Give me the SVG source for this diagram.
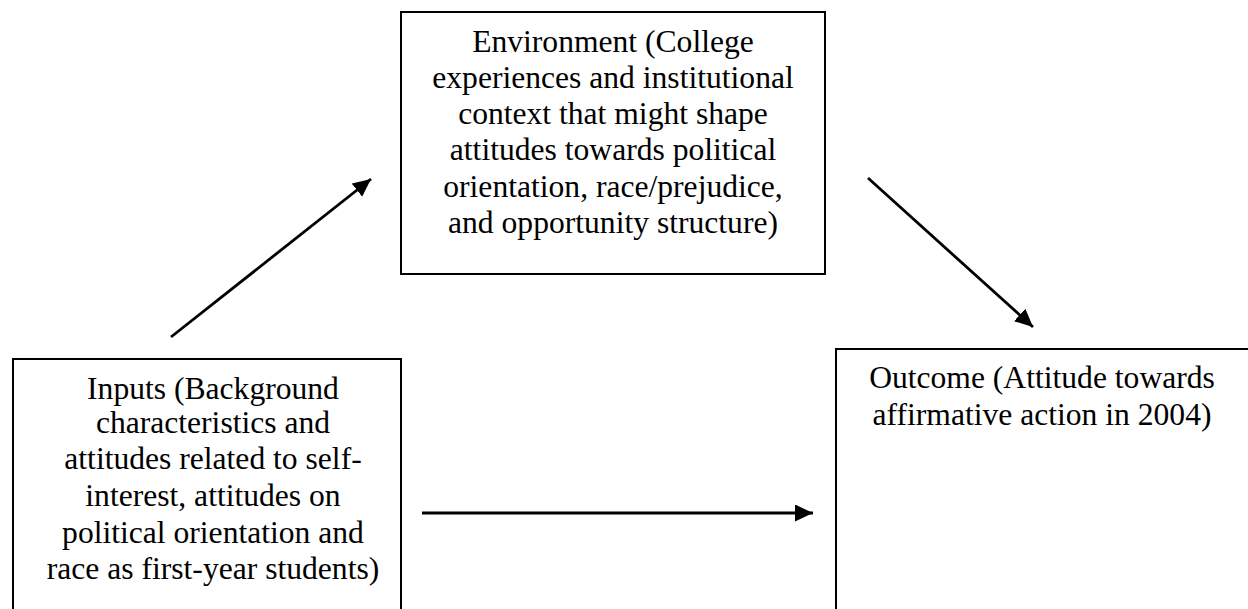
<svg xmlns="http://www.w3.org/2000/svg" width="1248" height="609" viewBox="0 0 1248 609">
<style>
.box{fill:#fff;stroke:#000;stroke-width:2}
.t{font-family:"Liberation Serif","Times New Roman",serif;font-size:31.6px;fill:#000;text-anchor:middle}
.c{stroke:#000;stroke-width:2.8;fill:none}
</style>
<defs>
<marker id="ah" markerUnits="userSpaceOnUse" viewBox="0 0 18 17" refX="18" refY="8.5" markerWidth="18" markerHeight="17" orient="auto">
<path d="M0,0 L18,8.5 L0,17 Z" fill="#000"/>
</marker>
</defs>
<rect width="1248" height="609" fill="#fff"/>
<g id="environment">
<rect class="box" x="401" y="12" width="424" height="262"/>
<text class="t" x="613" y="52">Environment (College</text>
<text class="t" x="613" y="88">experiences and institutional</text>
<text class="t" x="613" y="124">context that might shape</text>
<text class="t" x="613" y="160">attitudes towards political</text>
<text class="t" x="613" y="197">orientation, race/prejudice,</text>
<text class="t" x="613" y="233">and opportunity structure)</text>
</g>
<g id="inputs">
<rect class="box" x="13" y="359" width="388" height="270"/>
<text class="t" x="213" y="399">Inputs (Background</text>
<text class="t" x="213" y="433">characteristics and</text>
<text class="t" x="213" y="469">attitudes related to self-</text>
<text class="t" x="213" y="506">interest, attitudes on</text>
<text class="t" x="213" y="543">political orientation and</text>
<text class="t" x="213" y="579">race as first-year students)</text>
</g>
<g id="outcome">
<rect class="box" x="836" y="349" width="430" height="280"/>
<text class="t" x="1042" y="388">Outcome (Attitude towards</text>
<text class="t" x="1042" y="425">affirmative action in 2004)</text>
</g>
<g id="connectors">
<line class="c" x1="171" y1="337" x2="371" y2="179" marker-end="url(#ah)"/>
<line class="c" x1="868" y1="178" x2="1033" y2="327" marker-end="url(#ah)"/>
<line class="c" x1="422" y1="513" x2="813" y2="513" marker-end="url(#ah)"/>
</g>
</svg>
